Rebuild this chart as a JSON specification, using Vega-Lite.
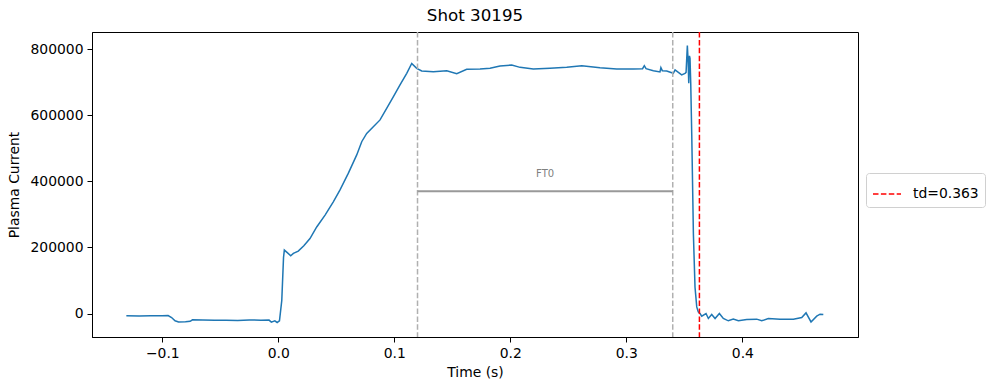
{
  "$schema": "https://vega.github.io/schema/vega-lite/v6.json",
  "width": 766,
  "height": 305,
  "autosize": "none",
  "padding": {"left": 92, "top": 32, "right": 131, "bottom": 53},
  "background": "white",
  "config": {
    "font": "DejaVu Sans",
    "view": {"stroke": "black", "strokeWidth": 1},
    "axis": {
      "grid": false,
      "domainColor": "black",
      "tickColor": "black",
      "tickSize": 5,
      "labelFontSize": 13.9,
      "labelColor": "black",
      "titleFontSize": 13.9,
      "titleFontWeight": "normal",
      "titleColor": "black",
      "labelPadding": 4
    }
  },
  "title": {"text": "Shot 30195", "fontSize": 16.7, "fontWeight": "normal", "font": "DejaVu Sans", "color": "black", "offset": 7},
  "datasets": {
    "ip": [
      {"t": -0.131, "ip": -7000}, {"t": -0.12, "ip": -7500}, {"t": -0.11, "ip": -6500}, {"t": -0.1, "ip": -7000},
      {"t": -0.095, "ip": -6000}, {"t": -0.092, "ip": -12000}, {"t": -0.089, "ip": -22000}, {"t": -0.086, "ip": -25500},
      {"t": -0.08, "ip": -25000}, {"t": -0.076, "ip": -23500}, {"t": -0.074, "ip": -19000}, {"t": -0.065, "ip": -19500},
      {"t": -0.055, "ip": -20500}, {"t": -0.045, "ip": -20000}, {"t": -0.035, "ip": -20800}, {"t": -0.025, "ip": -19500},
      {"t": -0.015, "ip": -20000}, {"t": -0.008, "ip": -19800}, {"t": -0.006, "ip": -26000}, {"t": -0.003, "ip": -22000},
      {"t": -0.001, "ip": -27000}, {"t": 0.001, "ip": -22000}, {"t": 0.003, "ip": 40000}, {"t": 0.0045, "ip": 170000},
      {"t": 0.0052, "ip": 192000}, {"t": 0.0075, "ip": 185000}, {"t": 0.0107, "ip": 175000}, {"t": 0.013, "ip": 182000},
      {"t": 0.0172, "ip": 189000}, {"t": 0.022, "ip": 205000}, {"t": 0.0273, "ip": 227000}, {"t": 0.0331, "ip": 262000},
      {"t": 0.0403, "ip": 298000}, {"t": 0.0474, "ip": 338000}, {"t": 0.0532, "ip": 374000}, {"t": 0.0603, "ip": 424000},
      {"t": 0.0676, "ip": 480000}, {"t": 0.0719, "ip": 520000}, {"t": 0.0762, "ip": 545000}, {"t": 0.0819, "ip": 565000},
      {"t": 0.0877, "ip": 586000}, {"t": 0.0934, "ip": 621000}, {"t": 0.0991, "ip": 656000}, {"t": 0.1049, "ip": 692000},
      {"t": 0.1107, "ip": 727000}, {"t": 0.115, "ip": 757000}, {"t": 0.1193, "ip": 742000}, {"t": 0.1236, "ip": 734000},
      {"t": 0.1336, "ip": 732000}, {"t": 0.1452, "ip": 735000}, {"t": 0.1538, "ip": 726000}, {"t": 0.1624, "ip": 739000},
      {"t": 0.1739, "ip": 740000}, {"t": 0.1825, "ip": 742000}, {"t": 0.1911, "ip": 749000}, {"t": 0.2012, "ip": 752000},
      {"t": 0.2084, "ip": 745000}, {"t": 0.2198, "ip": 740000}, {"t": 0.2342, "ip": 742000}, {"t": 0.2486, "ip": 745000},
      {"t": 0.2616, "ip": 750000}, {"t": 0.2773, "ip": 744000}, {"t": 0.2917, "ip": 740000}, {"t": 0.306, "ip": 740000},
      {"t": 0.314, "ip": 741000}, {"t": 0.3155, "ip": 750000}, {"t": 0.317, "ip": 741000}, {"t": 0.3233, "ip": 735000},
      {"t": 0.329, "ip": 731000}, {"t": 0.3298, "ip": 744000}, {"t": 0.331, "ip": 735000}, {"t": 0.3348, "ip": 734000},
      {"t": 0.3405, "ip": 727000}, {"t": 0.342, "ip": 737000}, {"t": 0.3477, "ip": 722000}, {"t": 0.3506, "ip": 727000},
      {"t": 0.3515, "ip": 730000}, {"t": 0.3526, "ip": 811000}, {"t": 0.3533, "ip": 760000}, {"t": 0.3538, "ip": 697000},
      {"t": 0.3544, "ip": 780000}, {"t": 0.3549, "ip": 772000}, {"t": 0.3555, "ip": 700000}, {"t": 0.3564, "ip": 540000},
      {"t": 0.3578, "ip": 242000}, {"t": 0.3592, "ip": 80000}, {"t": 0.3607, "ip": 20000}, {"t": 0.362, "ip": 5000},
      {"t": 0.3635, "ip": 0}, {"t": 0.365, "ip": -8000}, {"t": 0.3687, "ip": 0}, {"t": 0.3707, "ip": -15000},
      {"t": 0.3736, "ip": -3000}, {"t": 0.3765, "ip": -15000}, {"t": 0.3802, "ip": 0}, {"t": 0.3836, "ip": -15000},
      {"t": 0.3879, "ip": -22000}, {"t": 0.3922, "ip": -17000}, {"t": 0.3966, "ip": -22000}, {"t": 0.4038, "ip": -18000},
      {"t": 0.4124, "ip": -17000}, {"t": 0.4167, "ip": -22000}, {"t": 0.4224, "ip": -15000}, {"t": 0.4325, "ip": -17000},
      {"t": 0.444, "ip": -17000}, {"t": 0.4512, "ip": -12000}, {"t": 0.4549, "ip": 2000}, {"t": 0.4592, "ip": -25500},
      {"t": 0.4641, "ip": -8000}, {"t": 0.467, "ip": -2000}, {"t": 0.4698, "ip": -3000}
    ],
    "ft": [{"start": 0.12, "end": 0.34, "mid": 0.23, "level": 369700, "label": "FT0"}],
    "td": [{"td": 0.363, "name": "td=0.363"}]
  },
  "layer": [
    {
      "data": {"name": "ip"},
      "mark": {"type": "line", "color": "#1f77b4", "strokeWidth": 1.5, "clip": true},
      "encoding": {
        "x": {"field": "t", "type": "quantitative", "scale": {"domain": [-0.1606, 0.4997], "nice": false, "zero": false},
              "axis": {"values": [-0.1, 0, 0.1, 0.2, 0.3, 0.4], "format": ".1f", "title": "Time (s)", "titlePadding": 6}},
        "y": {"field": "ip", "type": "quantitative", "scale": {"domain": [-71000, 852000], "nice": false, "zero": false},
              "axis": {"values": [0, 200000, 400000, 600000, 800000], "format": "d", "title": "Plasma Current", "titlePadding": 8}}
      }
    },
    {
      "data": {"name": "ft"},
      "mark": {"type": "rule", "color": "#b0b0b0", "strokeWidth": 1.5, "strokeDash": [5.5, 2.4]},
      "encoding": {"x": {"field": "start", "type": "quantitative"}}
    },
    {
      "data": {"name": "ft"},
      "mark": {"type": "rule", "color": "#b0b0b0", "strokeWidth": 1.5, "strokeDash": [5.5, 2.4]},
      "encoding": {"x": {"field": "end", "type": "quantitative"}}
    },
    {
      "data": {"name": "ft"},
      "mark": {"type": "rule", "color": "#999999", "strokeWidth": 2},
      "encoding": {
        "x": {"field": "start", "type": "quantitative"},
        "x2": {"field": "end"},
        "y": {"field": "level", "type": "quantitative"}
      }
    },
    {
      "data": {"name": "ft"},
      "mark": {"type": "text", "color": "#808080", "fontSize": 10, "dy": -17, "baseline": "middle", "align": "center"},
      "encoding": {
        "x": {"field": "mid", "type": "quantitative"},
        "y": {"field": "level", "type": "quantitative"},
        "text": {"field": "label"}
      }
    },
    {
      "data": {"name": "td"},
      "mark": {"type": "rule", "strokeWidth": 1.5, "strokeDash": [5.5, 2.4]},
      "encoding": {
        "x": {"field": "td", "type": "quantitative"},
        "color": {"field": "name", "type": "nominal", "scale": {"domain": ["td=0.363"], "range": ["red"]},
          "legend": {"title": null, "orient": "none", "legendX": 774, "legendY": 141, "symbolType": "stroke",
            "symbolSize": 784, "symbolStrokeWidth": 1.5, "symbolDash": [5.5, 2.4], "labelFontSize": 13.9,
            "labelColor": "black", "labelOffset": 11, "padding": 6, "fillColor": "white", "strokeColor": "#d0d0d0",
            "cornerRadius": 3}}
      }
    }
  ]
}
